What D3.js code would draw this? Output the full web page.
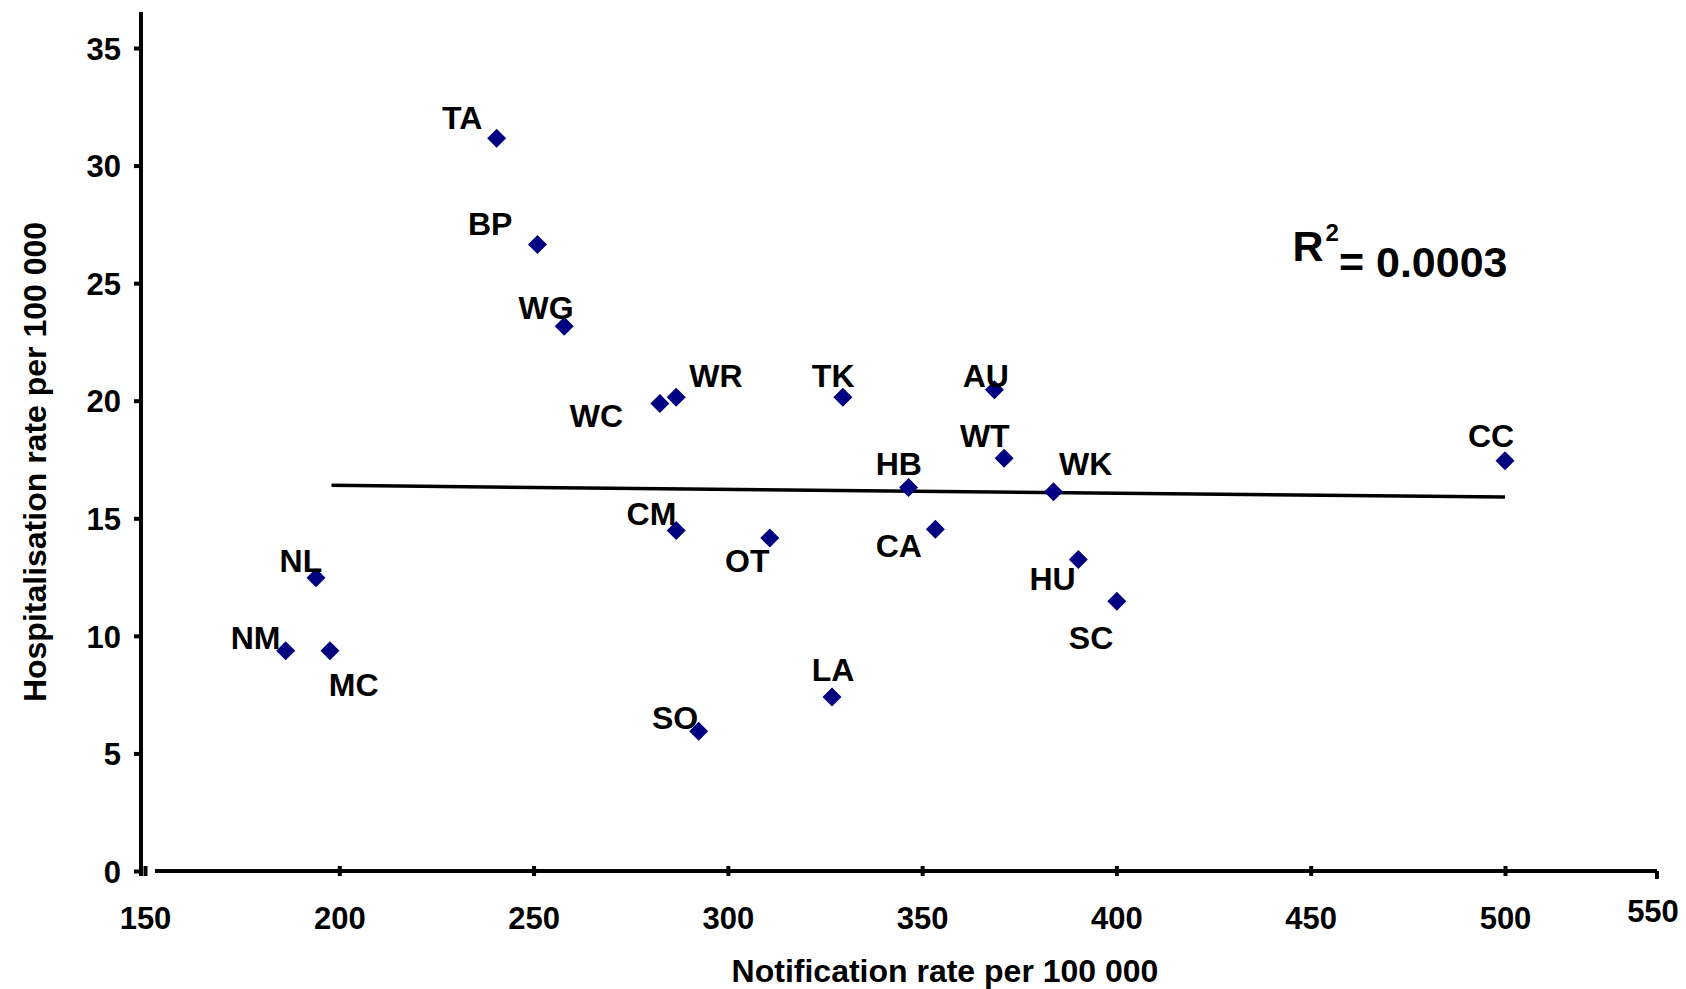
<!DOCTYPE html>
<html><head><meta charset="utf-8">
<script src="https://cdn.jsdelivr.net/npm/d3@7"></script>
<style>
html,body{margin:0;padding:0;background:#fff;}
svg text{font-family:"Liberation Sans",Arial,sans-serif;font-weight:bold;fill:#000;}
</style></head>
<body>
<svg id="chart" width="1686" height="989"></svg>
<script>
// ---- data ----
const regions = ["TA","BP","WG","WC","WR","TK","AU","WT","HB","WK","CC","CM","OT","CA","HU","SC","NL","NM","MC","SO","LA"];
const notificationRate = [240.5,251,257.9,282.5,286.7,329.6,368.6,371.1,346.5,383.8,500,286.7,310.8,353.4,390.2,400.1,194,186.2,197.6,292.5,326.8];
const hospitalisationRate = [31.16,26.64,23.17,19.88,20.15,20.15,20.47,17.55,16.31,16.13,17.45,14.48,14.16,14.53,13.25,11.47,12.47,9.37,9.37,5.94,7.40];
const trendX = [198, 500];
const trendY = [16.4, 15.9];
const xTicks = [150,200,250,300,350,400,450,500];
const yTicks = [0,5,10,15,20,25,30,35];
const rSquaredText = "0.0003";

// ---- layout (label offsets in px, not data) ----
const labelOffset = {
  TA:[-32,-19], BP:[-44,-19], WG:[-17,-17], WC:[-59,11], WR:[37,-20], TK:[-9,-20],
  AU:[-8,-13], WT:[-18,-21], HB:[-9,-22], WK:[30,-26], CC:[-13,-23], CM:[-23,-16],
  OT:[-21,21], CA:[-34,15], HU:[-24,18], SC:[-24,34], NL:[-14,-16], NM:[-28,-12],
  MC:[22,32], SO:[-22,-13], LA:[1,-25]
};
const k = 1686/1568;

const svg = d3.select("#chart");
const x = d3.scaleLinear().domain([150,500]).range([145,1505]);
const y = d3.scaleLinear().domain([0,35]).range([871,48]);
const xEnd = 1657, yTop = 12;

// y axis
const yAxis = d3.axisLeft(y).tickValues(yTicks).tickSize(7).tickPadding(13);
const gy = svg.append("g").attr("transform","translate(141,0)").call(yAxis);
gy.select(".domain").remove();
gy.selectAll(".tick line").attr("stroke","#000").attr("stroke-width",4);
gy.selectAll(".tick text").style("font-size","31px").attr("dy","0.36em");
svg.append("line").attr("x1",141).attr("x2",141).attr("y1",yTop).attr("y2",876)
  .attr("stroke","#000").attr("stroke-width",4);

// x axis
const xAxis = d3.axisBottom(x).tickValues(xTicks).tickSize(5).tickPadding(42);
const gx = svg.append("g").attr("transform","translate(0,871)").call(xAxis);
gx.select(".domain").remove();
gx.selectAll(".tick line").attr("stroke","#000").attr("stroke-width",4).attr("y1",-5);
gx.selectAll(".tick text").style("font-size","31px").attr("dy","0.35em");
svg.append("line").attr("x1",155).attr("x2",xEnd).attr("y1",871).attr("y2",871)
  .attr("stroke","#000").attr("stroke-width",4);
svg.append("line").attr("x1",xEnd).attr("x2",xEnd).attr("y1",871).attr("y2",879)
  .attr("stroke","#000").attr("stroke-width",4);
svg.append("text").attr("x",xEnd-4).attr("y",911).attr("dy","0.35em")
  .attr("text-anchor","middle").style("font-size","31px").text("550");

// axis titles
svg.append("text").attr("x",945).attr("y",971).attr("dy","0.35em").attr("text-anchor","middle")
  .style("font-size","32px").text("Notification rate per 100 000");
svg.append("text").attr("transform","translate(35,462) rotate(-90)").attr("dy","0.35em")
  .attr("text-anchor","middle").style("font-size","32px").text("Hospitalisation rate per 100 000");

// trend line
svg.append("line")
  .attr("x1",x(trendX[0])).attr("y1",y(trendY[0]))
  .attr("x2",x(trendX[1])).attr("y2",y(trendY[1]))
  .attr("stroke","#000").attr("stroke-width",3.5);

// points
const pts = regions.map((r,i)=>({r, nx:notificationRate[i], hy:hospitalisationRate[i]}));
const sym = d3.symbol().type(d3.symbolDiamond2).size(230);
svg.append("g").selectAll("path").data(pts).join("path")
  .attr("d",sym).attr("transform",d=>`translate(${x(d.nx)},${y(d.hy)})`)
  .attr("fill","#000080");

// labels
svg.append("g").selectAll("text").data(pts).join("text")
  .attr("x",d=>x(d.nx)+labelOffset[d.r][0]*k)
  .attr("y",d=>y(d.hy)+labelOffset[d.r][1]*k)
  .attr("dy","0.35em").attr("text-anchor","middle")
  .style("font-size","32px").text(d=>d.r);

// R squared
const rt = svg.append("text").attr("x",1400).attr("y",246).attr("dy","0.35em")
  .attr("text-anchor","middle").style("font-size","43px");
rt.append("tspan").text("R");
rt.append("tspan").attr("dy","-0.85em").attr("dx","2").style("font-size","24px").text("2");
rt.append("tspan").attr("dy","0.85em").text("= " + rSquaredText);
</script>
</body></html>
